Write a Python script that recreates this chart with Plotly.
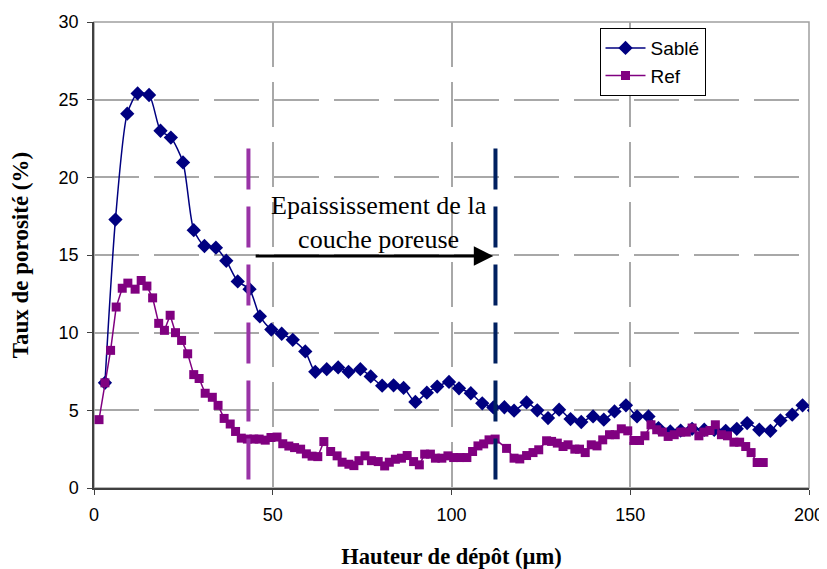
import plotly.graph_objects as go

# ---- data ----
sable_x = [3.06, 6.0, 9.3, 12.2, 15.4, 18.6, 21.5, 24.9, 27.9, 30.9, 34.1, 37.0, 40.2, 43.5,
           46.4, 49.6, 52.5, 55.6, 59.1, 61.9, 65.1, 68.3, 71.2, 74.5, 77.4, 80.6, 83.8, 86.6,
           89.9, 93.1, 96.0, 99.3, 102.1, 105.4, 108.6, 111.7, 114.8, 117.5, 121.0, 124.0,
           127.0, 130.1, 133.3, 136.3, 139.6, 142.6, 145.6, 148.8, 151.9, 155.1, 157.9, 161.2,
           164.1, 167.3, 170.7, 173.5, 176.7, 179.8, 182.7, 186.1, 189.2, 192.0, 195.3, 198.2,
           201.4]
sable_y = [6.77, 17.28, 24.1, 25.4, 25.3, 23.0, 22.56, 20.96, 16.6, 15.58, 15.47, 14.63, 13.3,
           12.8, 11.05, 10.2, 9.93, 9.54, 8.79, 7.48, 7.65, 7.76, 7.48, 7.65, 7.18, 6.59, 6.61,
           6.44, 5.54, 6.14, 6.53, 6.83, 6.42, 6.10, 5.45, 5.19, 5.2, 4.98, 5.51, 5.0, 4.5, 5.04,
           4.44, 4.25, 4.61, 4.4, 4.93, 5.32, 4.61, 4.61, 3.86, 3.64, 3.7, 3.81, 3.75, 3.75, 3.68,
           3.81, 4.18, 3.75, 3.68, 4.35, 4.72, 5.32, 5.0]

ref_x = [1.4, 3.06, 4.64, 6.2, 7.9, 9.47, 11.5, 13.2, 14.8, 16.4, 18.1, 19.7, 21.3, 22.8, 24.5,
         26.2, 27.9, 29.4, 31.1, 33.1, 34.7, 36.4, 38.1, 39.6, 41.2, 42.9, 44.7, 46.2, 47.9,
         49.5, 51.2, 52.8, 54.5, 56.1, 57.8, 59.4, 61.0, 62.6, 64.3, 66.2, 68.0, 69.4, 71.3,
         72.7, 74.1, 75.8, 77.6, 79.5, 81.3, 82.6, 84.3, 86.0, 87.6, 89.4, 91.0, 92.5, 94.1,
         95.5, 97.3, 99.0, 100.6, 102.4, 104.3, 105.9, 107.4, 109.0, 110.5, 112.2, 115.4,
         117.5, 119.1, 121.0, 122.8, 124.4, 126.6, 128.0, 129.6, 131.2, 132.6, 134.5, 135.8,
         137.4, 139.1, 140.7, 142.3, 144.2, 145.8, 147.5, 149.3, 151.0, 152.6, 154.1, 155.8,
         157.4, 159.0, 160.6, 162.3, 164.1, 165.7, 167.3, 169.2, 170.6, 172.3, 173.8, 175.5,
         177.2, 179.0, 180.6, 182.3, 183.8, 185.5, 187.2]
ref_y = [4.4, 6.77, 8.86, 11.65, 12.86, 13.19, 12.8, 13.36, 13.0, 12.24, 10.6, 10.15, 11.12,
         10.0, 9.5, 8.64, 7.3, 7.05, 6.1, 5.84, 5.32, 4.48, 4.12, 3.64, 3.21, 3.15, 3.15, 3.15,
         3.08, 3.25, 3.28, 2.85, 2.7, 2.6, 2.5, 2.2, 2.05, 2.02, 2.99, 2.35, 2.07, 1.66, 1.53,
         1.44, 1.76, 2.07, 1.76, 1.7, 1.42, 1.66, 1.85, 1.92, 2.09, 1.7, 1.49, 2.18, 2.18, 1.92,
         1.92, 2.07, 1.96, 1.96, 1.96, 2.35, 2.71, 2.84, 3.1, 3.15, 2.55, 1.92, 1.87, 2.09,
         2.28, 2.46, 3.04, 3.0, 2.89, 2.67, 2.78, 2.5, 2.5, 2.28, 2.78, 2.71, 3.1, 3.43, 3.43,
         3.81, 3.68, 3.06, 3.06, 3.36, 4.07, 3.75, 3.6, 3.32, 3.43, 3.6, 3.6, 3.86, 3.36, 3.6,
         3.7, 4.07, 3.43, 3.36, 2.95, 2.95, 2.67, 2.28, 1.64, 1.64]

x_ticks = [0, 50, 100, 150, 200]
y_ticks = [0, 5, 10, 15, 20, 25, 30]

boundary_ref = 43.2      # start of porous layer (Ref)
boundary_sable = 112.3   # end of porous layer (Sablé)
boundary_top = 21.85
arrow_y = 14.93
arrow_x0 = 44.8
arrow_x1 = 111.7
label_x = 79.7
label_y = 17.1
label_text = "Epaississement de la<br>couche poreuse"

NAVY = "#000080"
PURPLE = "#800080"
SERIF = "Liberation Serif, Times New Roman, serif"
SANS = "Liberation Sans, Arial, sans-serif"

fig = go.Figure()
fig.add_trace(go.Scatter(
    x=sable_x, y=sable_y, name="Sablé", mode="lines+markers",
    line=dict(color=NAVY, width=1.5, shape="spline", smoothing=0.7),
    marker=dict(symbol="diamond", size=11, color=NAVY)))
fig.add_trace(go.Scatter(
    x=ref_x, y=ref_y, name="Ref", mode="lines+markers",
    line=dict(color=PURPLE, width=1.5),
    marker=dict(symbol="square", size=9, color=PURPLE)))

# dashed boundary lines
fig.add_shape(type="line", xref="x", yref="y", x0=boundary_ref, x1=boundary_ref,
              y0=boundary_top, y1=0, line=dict(color="#9933A6", width=4, dash="41px,17px"))
fig.add_shape(type="line", xref="x", yref="y", x0=boundary_sable, x1=boundary_sable,
              y0=boundary_top, y1=0, line=dict(color="#002060", width=4, dash="41px,17px"))
# plot frame
fig.add_shape(type="rect", xref="paper", yref="paper", x0=0, x1=1, y0=0, y1=1,
              line=dict(color="#A0A0A0", width=1.5), layer="below")

fig.add_annotation(x=arrow_x1, y=arrow_y, ax=arrow_x0, ay=arrow_y, xref="x", yref="y",
                   axref="x", ayref="y", text="", showarrow=True, arrowhead=2,
                   arrowsize=1.3, arrowwidth=3, arrowcolor="black")
fig.add_annotation(x=label_x, y=label_y, xref="x", yref="y", text=label_text,
                   showarrow=False, font=dict(family=SERIF, size=26, color="black"),
                   align="center")

# the page body adds an 8px offset, so the figure is sized to fit the 827x569 window
fig.update_layout(
    width=819, height=561,
    margin=dict(l=86, r=18, t=14, b=81),
    plot_bgcolor="white", paper_bgcolor="white",
    font=dict(family=SANS, size=18, color="black"),
    legend=dict(x=0.707, y=0.987, xanchor="left", yanchor="top",
                bgcolor="white", bordercolor="black", borderwidth=1,
                font=dict(family=SANS, size=19, color="black"),
                itemwidth=40),
    xaxis=dict(range=[0, 200], tickvals=x_ticks, ticks="outside", ticklen=5,
               tickcolor="#404040", showline=True, linecolor="#404040", linewidth=1.5,
               showgrid=True, gridcolor="#A8A8A8", gridwidth=1.5, griddash="45px,15px",
               zeroline=False, automargin=False, tickfont=dict(size=18),
               ticklabelstandoff=5, ticklabeloverflow="allow",
               title=dict(text="<b>Hauteur de dépôt (µm)</b>",
                          font=dict(family=SERIF, size=22.5, color="black"), standoff=30)),
    yaxis=dict(range=[0, 30], tickvals=y_ticks, ticks="outside", ticklen=5,
               tickcolor="#404040", showline=True, linecolor="#404040", linewidth=1.5,
               showgrid=True, gridcolor="#A8A8A8", gridwidth=1.5, griddash="45px,15px",
               zeroline=False, automargin=False, tickfont=dict(size=18),
               ticklabelstandoff=5, ticklabeloverflow="allow",
               title=dict(text="<b>Taux de porosité (%)</b>",
                          font=dict(family=SERIF, size=23, color="black"), standoff=30)),
)

fig.write_html("out.html")
